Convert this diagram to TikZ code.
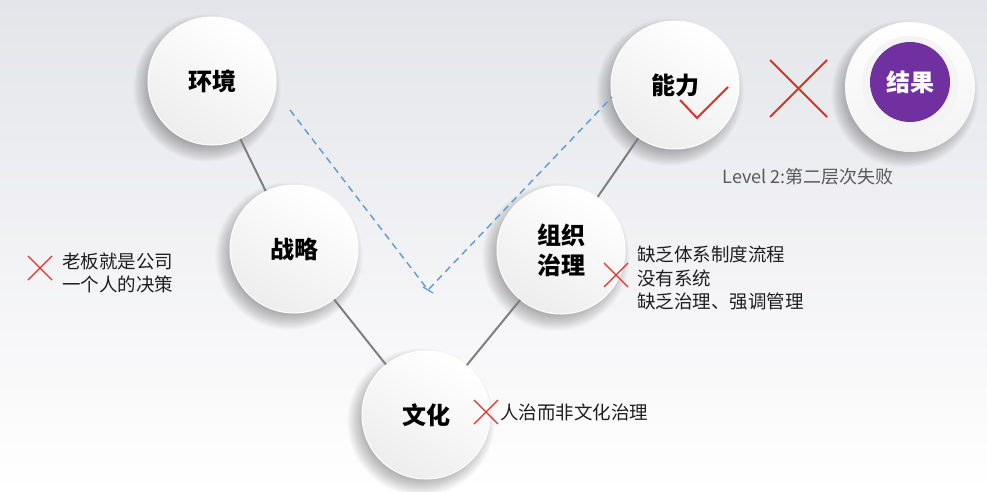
\documentclass[tikz,border=0pt]{standalone}
\usepackage{fontspec}
\setmainfont{Noto Sans CJK SC}
\definecolor{bgtop}{HTML}{E4E5EA}
\definecolor{xred}{HTML}{E0302A}
\definecolor{dashblue}{HTML}{5B9BD5}
\definecolor{purp}{HTML}{7030A0}
\definecolor{linegray}{HTML}{7F7F7F}
\definecolor{txt}{HTML}{1E1E1E}
\definecolor{lvl}{HTML}{595959}
\begin{document}
\begin{tikzpicture}[x=1pt,y=-1pt,
  ball/.style={circle, minimum size=128pt, inner sep=0pt, draw=white, line width=1pt,
    top color=white, bottom color=gray!14, shading angle=-30,
    font=\bfseries\fontsize{24}{30}\selectfont, text=black, align=center},
  conn/.style={draw=linegray, line width=2pt},
  dashline/.style={draw=dashblue, line width=1.4pt, dash pattern=on 7pt off 5pt},
  xline/.style={draw=xred, line width=1.3pt},
  side/.style={anchor=west, align=left, text=txt, font=\fontsize{18.5}{22.5}\selectfont, inner sep=0pt},
  redx/.pic={\draw[xline] (-12,-12) -- (12,12) (-12,12) -- (12,-12);},
  softshadow/.pic={\foreach \i in {0,...,12}{\fill[black, opacity=0.022] (-5,7) circle ({58+\i*1.3});}}
]
\useasboundingbox (0,0) rectangle (987,491);
\shade[top color=bgtop, bottom color=white] (0,0) rectangle (987,491);

% shadows
\pic at (212,81) {softshadow};
\pic at (294,249) {softshadow};
\pic at (426,415) {softshadow};
\pic at (561,250) {softshadow};
\pic at (675,85) {softshadow};
\pic at (910,87) {softshadow};

% circles
\node[ball] (env) at (212,81) {环境};
\node[ball] (str) at (294,249) {战略};
\node[ball] (cul) at (426,415) {文化};
\node[ball] (org) at (561,250) {组织\\治理};
\node[ball] (abi) at (675,85) {能力};

% result
\node[circle, minimum size=130pt, inner sep=0pt, top color=white, bottom color=gray!10] (res) at (910,87) {};
\node[circle, minimum size=96pt, inner sep=0pt, fill=gray!9] (resin) at (910,84) {};
\node[circle, minimum size=80pt, inner sep=0pt, fill=purp, text=white,
  font=\bfseries\fontsize{24}{30}\selectfont] (resc) at (910,82) {结果};

% connectors
\draw[conn] (env) -- (str);
\draw[conn] (str) -- (cul);
\draw[conn] (cul) -- (org);
\draw[conn] (org) -- (abi);

% dashed V
\coordinate (d1) at (290,110);
\coordinate (d2) at (428,290);
\coordinate (d3) at (612,97);
\draw[dashline] (d1) -- (d2) -- (d3);
\draw[draw=dashblue, line width=1.2pt] (423,287) -- (433,293);

% check mark in ability
\draw[xline, line width=2pt] (680,100) -- (697,118) -- (728,87);

% big X
\draw[xline, line width=2pt] (770,60) -- (827,117) (827,60) -- (770,117);

% level text
\node[text=lvl, font=\fontsize{18}{22}\selectfont, inner sep=0pt] (lv) at (808,177) {Level 2:第二层次失败};

% left annotation
\pic at (40,268) {redx};
\node[side] (t1) at (62,273) {老板就是公司\\一个人的决策};

% org annotation
\pic at (616,275) {redx};
\node[side, font=\fontsize{18.5}{23.5}\selectfont] (t2) at (637,278) {缺乏体系制度流程\\没有系统\\缺乏治理、强调管理};

% culture annotation
\pic at (486,412) {redx};
\node[side] (t3) at (500,412) {人治而非文化治理};
\end{tikzpicture}
\end{document}
